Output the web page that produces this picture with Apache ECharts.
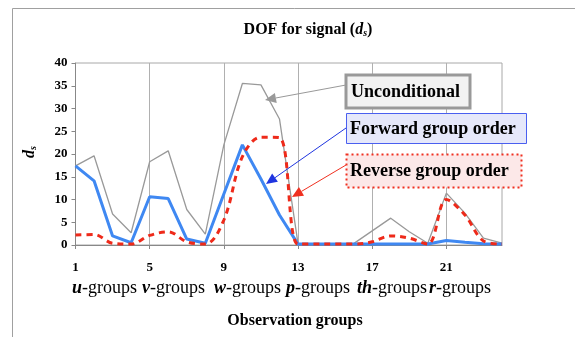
<!DOCTYPE html>
<html>
<head>
<meta charset="utf-8">
<script src="https://cdn.jsdelivr.net/npm/echarts@6/dist/echarts.min.js"></script>
<style>
  html, body { margin: 0; padding: 0; background: #fff; }
  #main { width: 575px; height: 337px; }
</style>
</head>
<body>
<div id="main"></div>
<script>
// DOF for signal (ds) per observation group

var categories = ['1', '2', '3', '4', '5', '6', '7', '8', '9', '10', '11', '12',
                  '13', '14', '15', '16', '17', '18', '19', '20', '21', '22', '23', '24'];
var unconditional = [17.4, 19.6, 6.8, 2.7, 18.3, 20.7, 7.8, 2.4, 22, 35.5, 35.2, 27.7,
                     0.3, 0.2, 0.2, 0.3, 3.1, 5.9, 2.9, 0.4, 11.4, 7, 1.5, 0.4];
var forwardOrder = [17.4, 14.1, 2.0, 0.5, 10.6, 10.2, 1.3, 0.4, 11.2, 22, 14.5, 6.6,
                    0.2, 0.2, 0.2, 0.2, 0.2, 0.2, 0.2, 0.2, 1.0, 0.6, 0.3, 0.2];
var reverseOrder = [2.2, 2.3, 0.4, 0.2, 2.1, 2.9, 0.7, 0.2, 5.5, 19.4, 23.7, 23.6,
                    0.2, 0.2, 0.2, 0.2, 0.7, 2.0, 1.5, 0.2, 10, 6.6, 0.9, 0.2];
var groupNames = [['u', '-groups'], ['v', '-groups'], ['w', '-groups'],
                  ['p', '-groups'], ['th', '-groups'], ['r', '-groups']];

var serif = 'Liberation Serif';

// arrow = line + filled head
function arrow(x1, y1, x2, y2, color, w) {
    var ang = Math.atan2(y2 - y1, x2 - x1);
    var len = 11, half = 5;
    var bx = x2 - len * Math.cos(ang), by = y2 - len * Math.sin(ang);
    var px = -Math.sin(ang) * half, py = Math.cos(ang) * half;
    return [
        { type: 'line', shape: { x1: x1, y1: y1, x2: bx, y2: by }, style: { stroke: color, lineWidth: w }, z: 50 },
        { type: 'polygon', shape: { points: [[x2, y2], [bx + px, by + py], [bx - px, by - py]] }, style: { fill: color }, z: 50 }
    ];
}

var graphics = [
    // chart area frame
    { type: 'rect', shape: { x: 12.5, y: 8.5, width: 700, height: 500 }, style: { fill: null, stroke: '#a0a0a0', lineWidth: 1 }, z: -1 },
    {
        type: 'text', x: 308, y: 30, z: 60,
        style: {
            text: '{t|DOF for signal (}{d|d}{s|s}{t|)}', align: 'center', verticalAlign: 'middle',
            rich: {
                t: { fontFamily: serif, fontWeight: 'bold', fontSize: 16, fill: '#000' },
                d: { fontFamily: serif, fontWeight: 'bold', fontStyle: 'italic', fontSize: 16, fill: '#000' },
                s: { fontFamily: serif, fontWeight: 'bold', fontStyle: 'italic', fontSize: 10, fill: '#000', padding: [7, 0, 0, 0] }
            }
        }
    },
    {
        type: 'text', x: 295, y: 321, z: 60,
        style: { text: 'Observation groups', fontFamily: serif, fontWeight: 'bold', fontSize: 16, fill: '#000', align: 'center', verticalAlign: 'middle' }
    },
    {
        type: 'text', x: 30, y: 152, rotation: Math.PI / 2, z: 60,
        style: {
            text: '{d|d}{s|s}', align: 'center', verticalAlign: 'middle',
            rich: {
                d: { fontFamily: serif, fontWeight: 'bold', fontStyle: 'italic', fontSize: 16, fill: '#000' },
                s: { fontFamily: serif, fontWeight: 'bold', fontStyle: 'italic', fontSize: 10, fill: '#000', padding: [7, 0, 0, 0] }
            }
        }
    },
    // annotation boxes
    {
        type: 'rect', shape: { x: 346, y: 75, width: 124, height: 33 },
        style: { fill: '#f2f2f2', stroke: '#999', lineWidth: 3 }, z: 55
    },
    {
        type: 'text', x: 351, y: 92, z: 56,
        style: { text: 'Unconditional', fontFamily: serif, fontWeight: 'bold', fontSize: 18, fill: '#000', verticalAlign: 'middle' }
    },
    {
        type: 'rect', shape: { x: 346.5, y: 113.5, width: 180, height: 30 },
        style: { fill: '#e6e8fa', stroke: '#4a5ff0', lineWidth: 1 }, z: 55
    },
    {
        type: 'text', x: 350, y: 129, z: 56,
        style: { text: 'Forward group order', fontFamily: serif, fontWeight: 'bold', fontSize: 18, fill: '#000', verticalAlign: 'middle' }
    },
    {
        type: 'rect', shape: { x: 346.5, y: 154.5, width: 175, height: 33 },
        style: { fill: '#fce8e8', stroke: '#f03020', lineWidth: 2, lineDash: [2, 3] }, z: 55
    },
    {
        type: 'text', x: 350, y: 171, z: 56,
        style: { text: 'Reverse group order', fontFamily: serif, fontWeight: 'bold', fontSize: 18, fill: '#000', verticalAlign: 'middle' }
    }
];

graphics = graphics.concat(arrow(346, 85, 265, 100, '#999', 1));
graphics = graphics.concat(arrow(346, 128, 266, 184, '#1f35e0', 1));
graphics = graphics.concat(arrow(346, 165, 292, 197, '#f03020', 1));

// group names under tick labels
var groupX = [72, 142, 214, 286, 357, 429];
for (var i = 0; i < groupNames.length; i++) {
    graphics.push({
        type: 'text', x: groupX[i], y: 288, z: 60,
        style: {
            text: '{b|' + groupNames[i][0] + '}{n|' + groupNames[i][1] + '}', verticalAlign: 'middle',
            rich: {
                b: { fontFamily: serif, fontWeight: 'bold', fontStyle: 'italic', fontSize: 18, fill: '#000' },
                n: { fontFamily: serif, fontSize: 18, fill: '#000' }
            }
        }
    });
}

var option = {
    backgroundColor: '#fff',
    animation: false,
    grid: {
        left: 75.5, right: 73, top: 63, bottom: 92,
        show: true, borderColor: '#a8a8a8', borderWidth: 1
    },
    xAxis: {
        type: 'category',
        boundaryGap: false,
        data: categories,
        axisLine: { lineStyle: { color: '#888', width: 1 } },
        axisTick: { show: true, interval: 3, length: 4, inside: false, lineStyle: { color: '#888' } },
        splitLine: { show: true, interval: 3, lineStyle: { color: '#b0b0b0', width: 1 } },
        axisLabel: {
            interval: 3, margin: 16,
            fontFamily: serif, fontWeight: 'bold', fontSize: 13, color: '#000'
        }
    },
    yAxis: {
        type: 'value',
        min: 0, max: 40, interval: 5,
        axisLine: { show: true, lineStyle: { color: '#888' } },
        axisTick: { show: true, length: 4, lineStyle: { color: '#888' } },
        splitLine: { show: false },
        axisLabel: { margin: 8, fontFamily: serif, fontWeight: 'bold', fontSize: 13, color: '#000' }
    },
    series: [
        {
            name: 'Unconditional', type: 'line', data: unconditional,
            symbol: 'none', lineStyle: { color: '#999', width: 1.3 }, z: 3
        },
        {
            name: 'Forward group order', type: 'line', data: forwardOrder,
            symbol: 'none', lineStyle: { color: '#3f88f2', width: 3 }, z: 4
        },
        {
            name: 'Reverse group order', type: 'line', data: reverseOrder,
            symbol: 'none', smooth: 0.35,
            lineStyle: { color: '#ee2a1a', width: 3, type: [6, 5] }, z: 5
        }
    ],
    graphic: graphics
};

var myChart = echarts.init(document.getElementById('main'));
myChart.setOption(option);
</script>
</body>
</html>
